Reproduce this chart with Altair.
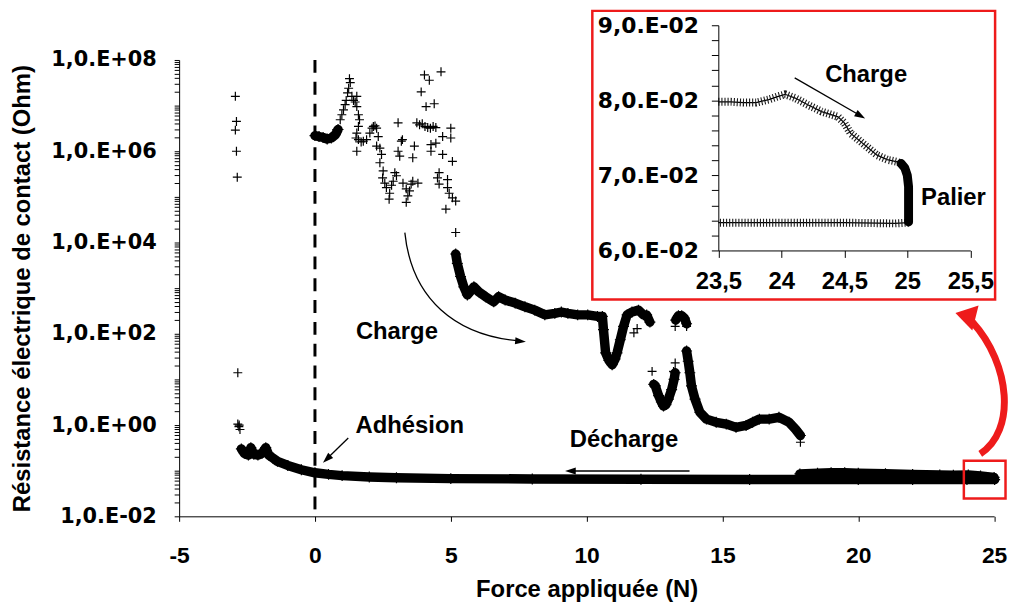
import math
import altair as alt
import pandas as pd

# ------------------------------------------------------------------
# DATA
# Main chart: force (N) vs contact resistance (Ohm)
# ------------------------------------------------------------------
# isolated "+" markers
sparse_x = [-2.93, -2.89, -2.93, -2.89, -2.86, -2.84, -2.84, -2.80, -2.76, -2.79,
            0.81, 0.93, 0.99, 1.05, 1.11, 1.15, 1.20, 1.24, 1.27, 1.30,
            1.36, 1.42, 1.48, 1.54, 1.54, 1.60, 1.64, 1.60, 1.54, 1.51,
            1.60, 1.70, 1.78, 1.90, 2.02, 2.10, 2.15, 2.21, 2.27, 2.33,
            1.54, 2.27, 2.39, 2.45, 2.39, 2.51, 2.49, 2.57, 2.63, 2.75,
            2.73, 2.82, 2.88, 2.94, 3.00, 3.06, 3.18, 3.22, 3.06, 3.12,
            3.24, 3.36, 3.48, 3.42, 3.36, 3.54, 3.60, 3.66, 3.60, 3.79,
            3.91, 4.03, 4.21, 4.64, 4.09, 4.39, 3.75, 3.85, 3.95, 4.05,
            4.15, 4.25, 4.35, 4.45, 4.45, 4.70, 5.00, 5.00, 4.27, 4.27,
            4.70, 5.06, 4.57, 4.51, 4.88, 4.57, 4.88, 4.94, 5.06, 5.18,
            4.82, 5.18, 11.74, 11.86, 12.41, 13.20, 13.26, 13.26, 13.68, 17.87]
sparse_r = [1.6e7, 4.5e6, 2.9e6, 1.0e6, 2.7e5, 14, 1.05, 0.92, 0.80, 1.0,
            3.0e6, 4.9e6, 6.3e6, 8.1e6, 1.05e7, 1.3e7, 1.9e7, 2.4e7, 3.9e7, 3.2e7,
            1.6e7, 1.3e7, 1.2e7, 1.6e7, 9.5e6, 6.3e6, 4.9e6, 3.5e6, 2.5e6, 1.95e6,
            1.8e6, 1.6e6, 1.66e6, 1.8e6, 2.5e6, 3.2e6, 3.5e6, 3.6e6, 3.2e6, 2.1e6,
            1.0e6, 1.3e6, 1.17e6, 8.5e5, 5.6e5, 3.7e5, 2.6e5, 2.0e5, 1.6e5, 1.2e5,
            8.9e4, 1.8e5, 2.2e5, 3.4e5, 2.9e5, 4.2e6, 1.66e6, 1.8e6, 1.0e6, 7.8e5,
            2.0e5, 1.5e5, 1.35e5, 1.05e5, 7.6e4, 1.9e5, 2.2e5, 1.3e6, 7.2e5, 2.0e5,
            2.0e7, 4.7e7, 3.6e7, 5.5e7, 9.5e6, 1.1e7, 4.2e6, 3.8e6, 4.0e6, 3.5e6,
            3.3e6, 3.2e6, 3.5e6, 3.3e6, 1.5e6, 2.1e6, 3.2e6, 1.95e6, 1.4e6, 1.0e6,
            8.5e5, 6.0e5, 3.4e5, 2.6e5, 2.4e5, 1.9e5, 1.6e5, 1.2e5, 9.5e4, 8.1e4,
            5.4e4, 1.66e4, 1.05e2, 1.3e2, 15, 15, 23, 1.45e2, 1.45e2, 0.42]

# dense runs of markers (drawn as thick traces)
band_start_x = [0.0, 0.15, 0.3, 0.45, 0.6, 0.75, 0.85]
band_start_r = [2.2e6, 2.1e6, 2.0e6, 1.85e6, 1.95e6, 2.3e6, 3.0e6]

charge_band_x = [5.18, 5.24, 5.36, 5.48, 5.61, 5.75, 5.85, 6.03, 6.28, 6.58, 6.76, 7.00,
                 7.37, 7.73, 8.09, 8.46, 8.83, 9.07, 9.31, 9.67, 10.04, 10.40, 10.58,
                 10.62, 10.70, 10.82, 10.94, 11.05, 11.12, 11.24, 11.36, 11.49, 11.67,
                 11.91, 12.09, 12.21, 12.33]
charge_band_r = [5.6e3, 3.5e3, 1.8e3, 1.07e3, 7.1e2, 8.9e2, 1.07e3, 8.3e2, 6.5e2, 5.0e2,
                 6.5e2, 5.5e2, 4.7e2, 3.9e2, 3.3e2, 2.6e2, 2.8e2, 3.0e2, 2.8e2, 2.6e2,
                 2.6e2, 2.4e2, 2.4e2, 1.23e2, 38, 26, 21, 28, 38, 74, 1.45e2, 2.6e2,
                 3.0e2, 3.3e2, 2.6e2, 2.6e2, 1.8e2]

dip2_x = [12.47, 12.53, 12.65, 12.75, 12.83, 12.92, 13.01, 13.13, 13.22, 13.26]
dip2_r = [7.8, 7.2, 4.4, 3.2, 2.6, 2.8, 3.7, 6.0, 10, 14]

blob_x = [13.28, 13.38, 13.50, 13.60, 13.68]
blob_r = [2.0e2, 2.5e2, 2.5e2, 2.2e2, 1.66e2]

tail_x = [13.68, 13.74, 13.80, 13.86, 13.99, 14.17, 14.41, 14.77, 15.14, 15.50,
          15.87, 16.11, 16.36, 16.72, 17.08, 17.45, 17.69, 17.87]
tail_r = [42, 25, 14, 7.2, 3.7, 1.9, 1.35, 1.15, 1.05, 0.89,
          0.98, 1.15, 1.35, 1.35, 1.48, 1.15, 0.81, 0.59]

charge_end_x = [17.85, 18.5, 19.0, 19.5, 20.0, 21.0, 22.0, 23.0, 23.5, 24.05, 24.5, 25.0]
charge_end_r = [0.085, 0.088, 0.090, 0.090, 0.088, 0.086, 0.083, 0.081, 0.0798, 0.0808,
                0.0769, 0.0715]

decharge_x = [25.02, 24.0, 22.0, 20.0, 16.0, 12.0, 8.0, 5.0, 3.0, 2.0, 1.0, 0.5, 0.0,
              -0.5, -1.0, -1.38, -1.55, -1.70, -1.81, -1.95, -2.10, -2.25, -2.36,
              -2.45, -2.60, -2.71]
decharge_r = [0.0637, 0.0637, 0.0638, 0.064, 0.064, 0.065, 0.066, 0.067, 0.070, 0.073,
              0.078, 0.083, 0.090, 0.105, 0.13, 0.16, 0.19, 0.22, 0.32, 0.24, 0.22,
              0.23, 0.32, 0.22, 0.24, 0.30]

# Inset (zoom on the end of loading)
inset_charge_x = [23.50, 23.60, 23.70, 23.80, 23.90, 23.97, 24.03, 24.11, 24.21, 24.32,
                  24.45, 24.50, 24.55, 24.63, 24.68, 24.76, 24.84, 24.92, 24.97]
inset_charge_r = [0.0798, 0.0798, 0.0797, 0.0797, 0.0801, 0.0805, 0.0808, 0.0803, 0.0794,
                  0.0785, 0.0778, 0.0770, 0.0756, 0.0745, 0.0738, 0.0727, 0.0721, 0.0718,
                  0.0715]
inset_palier_x = [24.95, 24.98, 25.00, 25.01, 25.01, 25.01, 25.01]
inset_palier_r = [0.0716, 0.0710, 0.0700, 0.0685, 0.0665, 0.0648, 0.0638]
inset_decharge_x = [25.01, 24.90, 24.50, 24.00, 23.50]
inset_decharge_r = [0.0637, 0.0636, 0.0637, 0.0637, 0.0637]

# axis ticks / texts
x_ticks = [-5, 0, 5, 10, 15, 20, 25]
y_ticks = [k * 10.0 ** e for e in range(-2, 8) for k in range(1, 10)] + [1e8]
inset_x_ticks = [23.5, 24.0, 24.5, 25.0, 25.5]
inset_y_ticks = [round(0.060 + 0.002 * i, 3) for i in range(16)]
x_title = "Force appliquée (N)"
y_title = "Résistance électrique de contact (Ohm)"
annotations = ["Charge", "Adhésion", "Décharge", "Charge", "Palier"]

# ------------------------------------------------------------------
# LAYOUT helpers (page pixel geometry of the plot area)
# ------------------------------------------------------------------
X0, Y0 = 180.5, 58.0
W, H = 821.5, 460.0
RED = "#ee1b1b"
CROSS = "M-1,0L1,0M0,-1L0,1"
TRI = "M0,-1L0.6,0.8L-0.6,0.8Z"
TRI_WIDE = "M0,-1L1,0.6L-1,0.6Z"
BOLD = "Liberation Sans"
WIDE = "DejaVu Sans"

assert len(sparse_x) == len(sparse_r)


def frame(pairs):
    rows = []
    for name, xs, rs in pairs:
        assert len(xs) == len(rs)
        for i, (a, b) in enumerate(zip(xs, rs)):
            rows.append({"seg": name, "i": i, "x": a, "r": b})
    return pd.DataFrame(rows)


sparse_df = pd.DataFrame({"x": sparse_x, "r": sparse_r})
dense_df = frame([
    ("start", band_start_x, band_start_r),
    ("band", charge_band_x, charge_band_r),
    ("dip2", dip2_x, dip2_r),
    ("blob", blob_x, blob_r),
    ("tail", tail_x, tail_r),
    ("end", charge_end_x, charge_end_r),
    ("dech", decharge_x, decharge_r),
])
inset_df = frame([
    ("charge", inset_charge_x, inset_charge_r),
    ("palier", inset_palier_x, inset_palier_r),
    ("decharge", inset_decharge_x, inset_decharge_r),
])
one = pd.DataFrame({"k": [0]})

y_label_expr = (
    "(abs(datum.value / pow(10, round(log(datum.value) / LN10)) - 1) < 1e-6 && "
    "round(log(datum.value) / LN10) % 2 == 0) ? "
    "'1,0.E' + (datum.value >= 1 ? '+' : '-') + "
    "(abs(round(log(datum.value) / LN10)) < 10 ? '0' : '') + "
    "abs(round(log(datum.value) / LN10)) : ''"
)

x_main = alt.X(
    "x:Q",
    scale=alt.Scale(domain=[-5, 25], nice=False, zero=False),
    axis=alt.Axis(values=x_ticks, title=x_title, labelExpr="datum.value + ''",
                  labelFont=BOLD, labelFontSize=23, labelFontWeight="bold",
                  labelPadding=24, labelFlush=False, tickSize=5, grid=False,
                  titleFont=BOLD, titleFontSize=24, titleFontWeight="bold",
                  titlePadding=10, zindex=1),
)
y_main = alt.Y(
    "r:Q",
    scale=alt.Scale(type="log", domain=[1e-2, 1e8], nice=False),
    axis=alt.Axis(values=y_ticks, labelExpr=y_label_expr, labelOverlap=False,
                  labelFont=WIDE, labelFontSize=21, labelFontWeight="bold",
                  labelPadding=18, tickSize=5, grid=False, title=y_title,
                  titleFont=BOLD, titleFontSize=24, titleFontWeight="bold",
                  titlePadding=16, zindex=1),
)

x_in = alt.X(
    "x:Q",
    scale=alt.Scale(domain=[23.5, 25.5], range=[724 - X0, 978 - X0], nice=False, zero=False),
    axis=alt.Axis(orient="bottom", offset=(250 - Y0) - H, values=inset_x_ticks,
                  labelExpr="replace(datum.value + '', '.', ',')", title=None,
                  labelFont=BOLD, labelFontSize=24, labelFontWeight="bold",
                  labelPadding=12, labelFlush=False, tickSize=7, grid=False, zindex=1),
)
y_in = alt.Y(
    "r:Q",
    scale=alt.Scale(domain=[0.06, 0.09], range=[250 - Y0, 23 - Y0], nice=False, zero=False),
    axis=alt.Axis(orient="left", offset=-(724 - X0), values=inset_y_ticks,
                  labelExpr="abs(datum.value * 100 - round(datum.value * 100)) < 1e-6 ? "
                            "replace(format(datum.value * 100, '.1f'), '.', ',') + '.E-02' : ''",
                  labelOverlap=False, title=None,
                  labelFont=WIDE, labelFontSize=22, labelFontWeight="bold",
                  labelPadding=13, tickSize=7, grid=False, zindex=1),
)


def pos(xp, yp):
    return dict(x=alt.value(xp - X0), y=alt.value(yp - Y0))


def text_layer(label, xp, yp, size=24):
    return alt.Chart(pd.DataFrame({"t": [label]})).mark_text(
        font=BOLD, fontSize=size, fontWeight="bold", color="black",
        align="center", baseline="middle").encode(text="t:N", **pos(xp, yp))


def rule_layer(x1, y1, x2, y2, width=1.3, color="black"):
    return alt.Chart(one).mark_rule(color=color, strokeWidth=width).encode(
        x=alt.value(x1 - X0), y=alt.value(y1 - Y0),
        x2=alt.value(x2 - X0), y2=alt.value(y2 - Y0))


def head_layer(tip_x, tip_y, angle, half=6.0, color="black", shape=TRI):
    a = math.radians(angle)
    cx = tip_x - math.sin(a) * half
    cy = tip_y + math.cos(a) * half
    return alt.Chart(one).mark_point(
        shape=shape, filled=True, color=color, size=(2 * half) ** 2,
        angle=angle, opacity=1, strokeWidth=0).encode(**pos(cx, cy))


def curve_layer(points, cx, cy, half, color, width):
    n = [((px - cx) / half, (py - cy) / half) for px, py in points]
    path = "M{:.3f},{:.3f}C{:.3f},{:.3f},{:.3f},{:.3f},{:.3f},{:.3f}".format(
        *[v for p in n for v in p])
    return alt.Chart(one).mark_point(
        shape=path, filled=False, color=color, strokeWidth=width,
        size=(2 * half) ** 2, opacity=1).encode(**pos(cx, cy))


# ------------------------------------------------------------------
# MAIN CHART
# ------------------------------------------------------------------
dense = alt.Chart(dense_df).mark_line(
    color="black", strokeWidth=9.5, strokeCap="round", strokeJoin="round"
).encode(x=x_main, y=y_main, detail="seg:N", order="i:Q")

dense_marks = alt.Chart(dense_df).mark_point(
    shape=CROSS, filled=False, color="black", strokeWidth=1.2, size=121, opacity=1
).encode(x=x_main, y=y_main)

crosses = alt.Chart(sparse_df).mark_point(
    shape=CROSS, filled=False, color="black", strokeWidth=1.2, size=81, opacity=1
).encode(x=x_main, y=y_main)

zero_line = alt.Chart(pd.DataFrame({"x": [0.0]})).mark_rule(
    color="black", strokeWidth=3, strokeDash=[13, 9]
).encode(x=x_main)

main_layers = [
    dense, dense_marks, crosses, zero_line,
    # "Charge" curved arrow
    curve_layer([(408, 232), (415, 300), (460, 335), (521, 341)], 468, 287, 70, "black", 1.3),
    head_layer(530, 342, 95),
    text_layer(annotations[0], 400, 332),
    # "Adhésion" arrow
    rule_layer(351, 439, 329, 460.5),
    head_layer(325.5, 464, 226),
    text_layer(annotations[1], 413, 427),
    # "Décharge" arrow
    rule_layer(695, 472.3, 576, 472.3),
    head_layer(569.5, 472.3, 270),
    text_layer(annotations[2], 629, 441),
    # inset frame and zoom box
    alt.Chart(one).mark_rect(fill="white", stroke=RED, strokeWidth=2.5).encode(
        x=alt.value(597 - X0), x2=alt.value(1003 - X0),
        y=alt.value(8.5 - Y0), y2=alt.value(299.5 - Y0)),
    alt.Chart(one).mark_rect(fill="white", fillOpacity=0, stroke=RED, strokeWidth=2.5).encode(
        x=alt.value(971.5 - X0), x2=alt.value(1013.5 - X0),
        y=alt.value(462 - Y0), y2=alt.value(500 - Y0)),
    # red curved arrow
    curve_layer([(988, 455), (1024, 432), (1019, 365), (980, 322)], 1000, 388, 70, RED, 7),
    head_layer(963, 313, 284, half=13, color=RED, shape=TRI_WIDE),
]
main = alt.layer(*main_layers)

# ------------------------------------------------------------------
# INSET
# ------------------------------------------------------------------
inset_thin = alt.Chart(inset_df).mark_line(color="black", strokeWidth=1.2).encode(
    x=x_in, y=y_in, detail="seg:N", order="i:Q")
inset_ticks = alt.Chart(inset_df).transform_filter(
    "datum.seg != 'palier'"
).mark_line(color="#1a1a1a", strokeWidth=8, strokeDash=[1.1, 2.0]).encode(
    x=x_in, y=y_in, detail="seg:N", order="i:Q")
inset_palier = alt.Chart(inset_df).transform_filter(
    "datum.seg == 'palier'"
).mark_line(color="black", strokeWidth=9, strokeCap="round", strokeJoin="round").encode(
    x=x_in, y=y_in, order="i:Q")

inset = alt.layer(
    inset_thin, inset_ticks, inset_palier,
    rule_layer(801, 76, 866.5, 113.7),
    head_layer(872, 117, 120),
    text_layer(annotations[3], 873, 73),
    text_layer(annotations[4], 961, 197),
)

chart = alt.layer(main, inset).resolve_scale(
    x="independent", y="independent"
).properties(
    width=W, height=H,
    padding={"left": X0 - 8, "top": Y0 - 8, "right": 14, "bottom": 88},
    autosize=alt.AutoSizeParams(type="none"),
).configure_view(stroke=None).configure_axis(
    domainColor="black", tickColor="black", labelColor="black", titleColor="black",
    domainWidth=1, tickWidth=1,
)

chart.save("out.html", embed_options={"renderer": "svg", "actions": False})
